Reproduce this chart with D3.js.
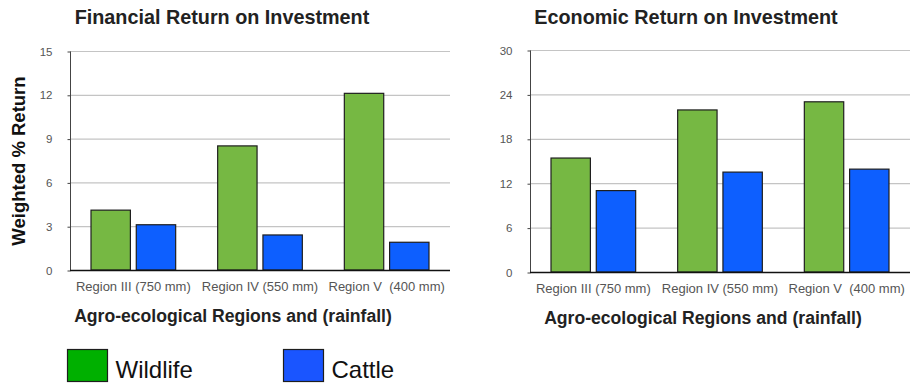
<!doctype html>
<html>
	<head>
		<meta charset="utf-8">
		<style type="text/css">
			body { margin: 0; background: #fff; }
			svg { display: block; font-family: "Liberation Sans", Arial, sans-serif; }
		</style>
		<script src="https://d3js.org/d3.v7.min.js"></script>
	</head>
	<body>
		<svg width="910" height="385"></svg>
		<script type="text/javascript">

			var regions = ["Region III (750 mm)", "Region IV (550 mm)", "Region V  (400 mm)"];
			var series = ["Wildlife", "Cattle"];

			var financialWildlife = [4.1, 8.5, 12.1];
			var financialCattle = [3.1, 2.4, 1.9];
			var financialTicks = [0, 3, 6, 9, 12, 15];

			var economicWildlife = [15.4, 21.9, 23.0];
			var economicCattle = [11.0, 13.5, 13.9];
			var economicTicks = [0, 6, 12, 18, 24, 30];

			var barColors = ["#76b843", "#0d5fff"];
			var legendColors = ["#00b000", "#1a55ff"];

			var svg = d3.select("svg");

			function drawChart(opts) {
				var g = svg.append("g");

				var x = d3.scaleBand()
							.domain(regions)
							.range([opts.left, opts.right]);

				var inner = d3.scaleBand()
							.domain(series)
							.range([21, x.bandwidth() - 21])
							.paddingInner(0.13);

				var y = d3.scaleLinear()
							.domain([0, d3.max(opts.ticks)])
							.range([opts.bottom, opts.top]);

				// grid lines
				g.append("g")
					.selectAll("line")
						.data(opts.ticks.slice(1)).enter()
					.append("line")
						.attr("x1", opts.left)
						.attr("x2", opts.right)
						.attr("y1", (d) => y(d) + 0.5)
						.attr("y2", (d) => y(d) + 0.5)
						.style("stroke", "#c4c4c4")
						.style("stroke-width", 1.2);

				// y axis
				var yAxis = g.append("g")
					.attr("transform", `translate(${opts.left + 0.5},0.5)`)
					.call(d3.axisLeft(y).tickValues(opts.ticks).tickSize(3).tickPadding(15));
				yAxis.select(".domain").style("stroke", "#444").attr("d", `M0,${opts.top}V${opts.bottom}`);
				yAxis.selectAll(".tick line").style("stroke", "#444");
				yAxis.selectAll("text")
					.style("font-size", "11.5px")
					.style("fill", "#555")
					.style("font-family", "Liberation Sans, Arial, sans-serif");

				// bars
				var data = [];
				regions.forEach((r, i) => {
					data.push({ region: r, s: "Wildlife", v: opts.wildlife[i] });
					data.push({ region: r, s: "Cattle", v: opts.cattle[i] });
				});

				g.append("g")
					.selectAll("rect")
						.data(data).enter()
					.append("rect")
						.attr("x", (d) => x(d.region) + inner(d.s))
						.attr("y", (d) => y(d.v))
						.attr("width", inner.bandwidth())
						.attr("height", (d) => opts.bottom - y(d.v))
						.style("fill", (d) => barColors[series.indexOf(d.s)])
						.style("stroke", "#1e1e1e")
						.style("stroke-width", 1.2);

				// x baseline
				g.append("line")
					.attr("x1", opts.left)
					.attr("x2", opts.right)
					.attr("y1", opts.bottom + 0.5)
					.attr("y2", opts.bottom + 0.5)
					.style("stroke", "#111")
					.style("stroke-width", 1.6);

				// category labels
				g.append("g")
					.selectAll("text")
						.data(regions).enter()
					.append("text")
						.attr("x", (d) => x(d) + x.bandwidth() / 2)
						.attr("y", opts.bottom + 21)
						.text((d) => d)
						.style("text-anchor", "middle")
						.style("font-size", "13px")
						.style("fill", "#555")
						.style("white-space", "pre")
						.attr("xml:space", "preserve");

				// titles
				g.append("text")
					.attr("x", opts.titleX)
					.attr("y", 24)
					.text(opts.title)
					.style("text-anchor", "middle")
					.style("font-size", "19.8px")
					.style("font-weight", "bold")
					.style("fill", "#222");

				g.append("text")
					.attr("x", opts.xTitleX)
					.attr("y", opts.bottom + 52)
					.text("Agro-ecological Regions and (rainfall)")
					.style("text-anchor", "middle")
					.style("font-size", "17.6px")
					.style("font-weight", "bold")
					.style("fill", "#222");
			}

			drawChart({
				left: 70, right: 450, top: 51, bottom: 270,
				ticks: financialTicks,
				wildlife: financialWildlife,
				cattle: financialCattle,
				title: "Financial Return on Investment",
				titleX: 222,
				xTitleX: 233
			});

			drawChart({
				left: 530, right: 910, top: 50, bottom: 272,
				ticks: economicTicks,
				wildlife: economicWildlife,
				cattle: economicCattle,
				title: "Economic Return on Investment",
				titleX: 686,
				xTitleX: 703
			});

			// y axis title
			svg.append("text")
				.attr("transform", "translate(25,161) rotate(-90)")
				.text("Weighted % Return")
				.style("text-anchor", "middle")
				.style("font-size", "18.5px")
				.style("font-weight", "bold")
				.style("fill", "#111");

			// legend
			var legend = svg.append("g")
								.selectAll("g")
									.data(series).enter()
								.append("g")
									.attr("transform", (d, i) => `translate(${67.5 + i * 216},349.5)`);
			legend.append("rect")
				.attr("width", 40)
				.attr("height", 32)
				.style("fill", (d, i) => legendColors[i])
				.style("stroke", "#1e1e1e")
				.style("stroke-width", 1.2);
			legend.append("text")
				.attr("x", 48)
				.attr("y", 28)
				.text((d) => d)
				.style("font-size", "24px")
				.style("fill", "#111");

		</script>
	</body>
</html>
